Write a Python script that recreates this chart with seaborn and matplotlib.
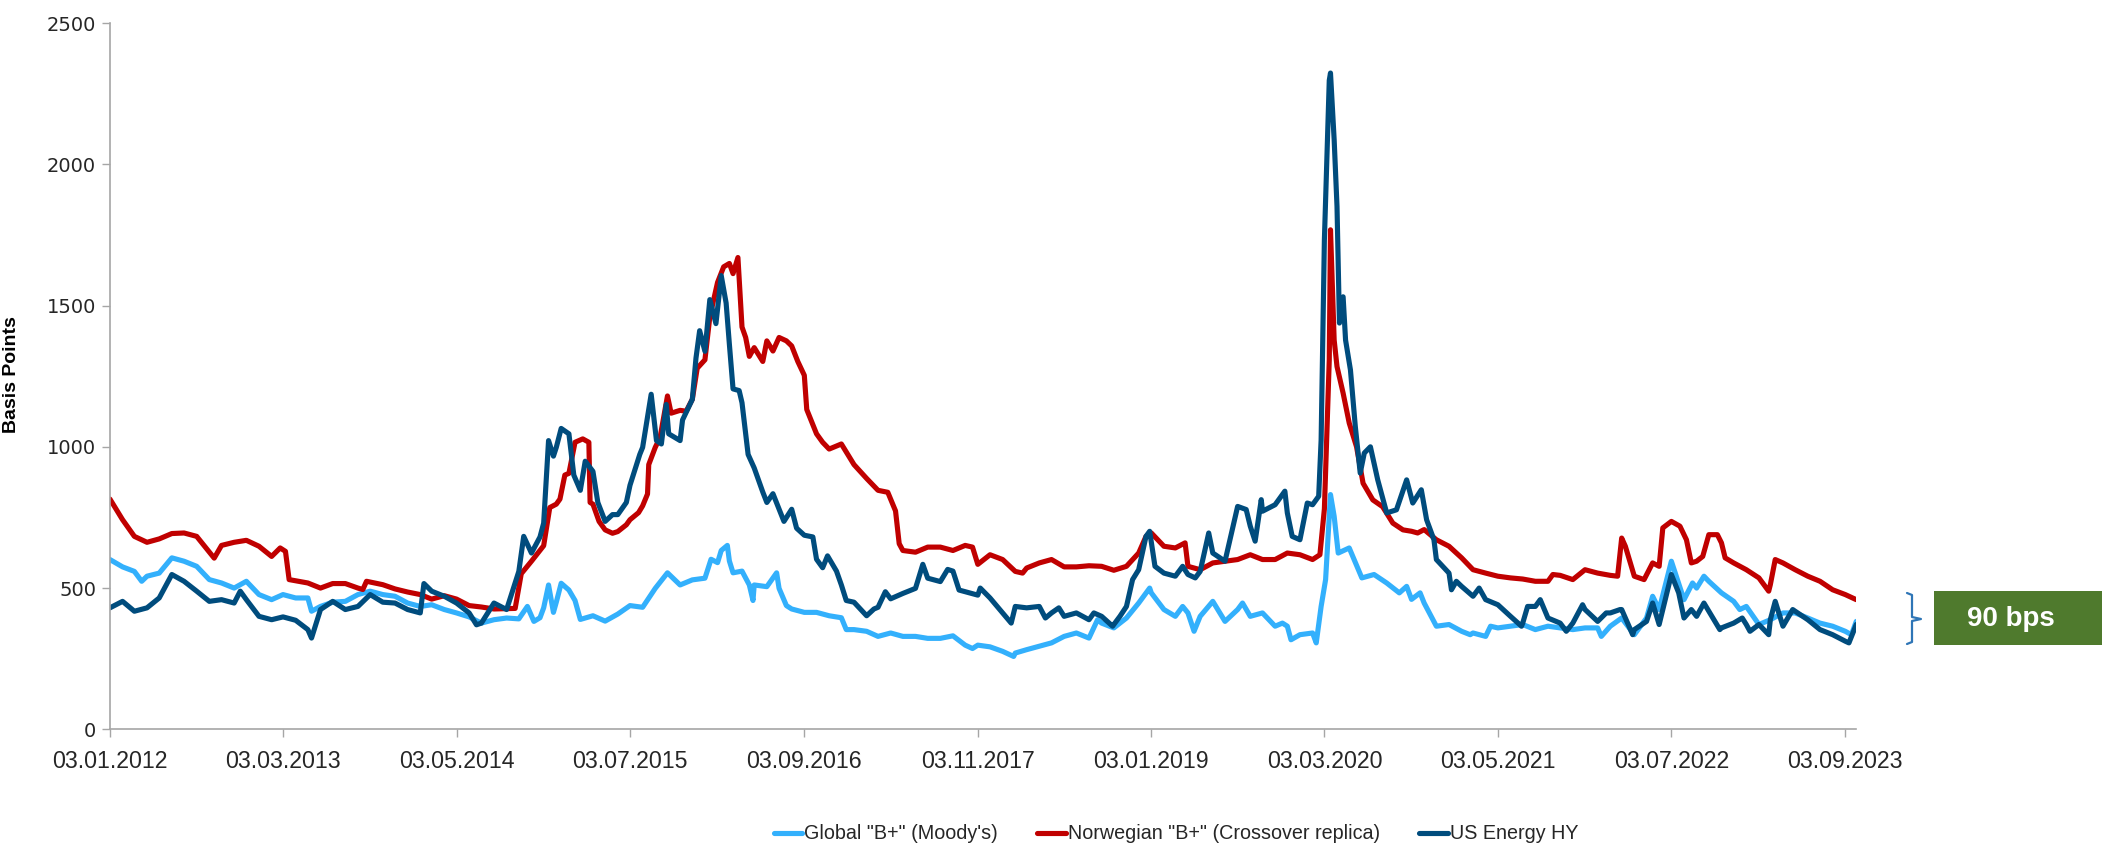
import matplotlib
matplotlib.use("Agg")
import matplotlib.pyplot as plt
from matplotlib import font_manager
from matplotlib.lines import Line2D
from matplotlib.patches import Rectangle
import pandas as pd
import seaborn as sns

# --- data (basis points) ---
global_dates = [
    "2012-01-03", "2012-02-03", "2012-03-03", "2012-03-21", "2012-04-03", "2012-05-03", "2012-06-03",
    "2012-07-03", "2012-08-03", "2012-09-03", "2012-10-03", "2012-11-03", "2012-12-03", "2013-01-03",
    "2013-02-03", "2013-03-03", "2013-04-03", "2013-05-03", "2013-05-12", "2013-06-03", "2013-07-03",
    "2013-08-03", "2013-09-03", "2013-10-03", "2013-11-03", "2013-12-03", "2014-01-03", "2014-02-03",
    "2014-03-03", "2014-04-03", "2014-05-03", "2014-06-03", "2014-07-03", "2014-08-03", "2014-09-03",
    "2014-10-03", "2014-10-24", "2014-11-09", "2014-11-24", "2014-12-03", "2014-12-15", "2014-12-27",
    "2015-01-03", "2015-01-15", "2015-02-03", "2015-02-18", "2015-03-03", "2015-04-03", "2015-05-03",
    "2015-06-03", "2015-07-03", "2015-08-03", "2015-09-03", "2015-10-03", "2015-11-03", "2015-12-03",
    "2016-01-03", "2016-01-18", "2016-02-03", "2016-02-12", "2016-02-27", "2016-03-03", "2016-03-12",
    "2016-04-03", "2016-04-21", "2016-04-30", "2016-05-03", "2016-06-03", "2016-06-27", "2016-07-03",
    "2016-07-21", "2016-08-03", "2016-09-03", "2016-10-03", "2016-11-03", "2016-12-03", "2016-12-15",
    "2017-01-03", "2017-02-03", "2017-03-03", "2017-04-03", "2017-05-03", "2017-06-03", "2017-07-03",
    "2017-08-03", "2017-09-03", "2017-10-03", "2017-10-21", "2017-11-03", "2017-12-03", "2018-01-03",
    "2018-01-30", "2018-02-03", "2018-03-03", "2018-04-03", "2018-05-03", "2018-06-03", "2018-07-03",
    "2018-08-03", "2018-08-24", "2018-09-03", "2018-10-03", "2018-11-03", "2018-12-03", "2018-12-30",
    "2019-01-03", "2019-02-03", "2019-03-03", "2019-03-21", "2019-04-03", "2019-04-18", "2019-05-03",
    "2019-06-03", "2019-07-03", "2019-08-03", "2019-08-15", "2019-09-03", "2019-10-03", "2019-11-03",
    "2019-11-21", "2019-12-03", "2019-12-12", "2020-01-03", "2020-02-03", "2020-02-12", "2020-02-24",
    "2020-03-06", "2020-03-18", "2020-03-27", "2020-04-06", "2020-05-03", "2020-06-03", "2020-07-03",
    "2020-08-03", "2020-09-03", "2020-09-21", "2020-10-03", "2020-10-24", "2020-11-03", "2020-12-03",
    "2021-01-03", "2021-02-03", "2021-02-24", "2021-03-03", "2021-04-03", "2021-04-15", "2021-05-03",
    "2021-06-03", "2021-07-03", "2021-08-03", "2021-09-03", "2021-10-03", "2021-11-03", "2021-12-03",
    "2022-01-03", "2022-01-12", "2022-02-03", "2022-03-03", "2022-04-03", "2022-05-03", "2022-05-18",
    "2022-06-03", "2022-07-03", "2022-08-03", "2022-08-24", "2022-09-03", "2022-09-21", "2022-10-03",
    "2022-11-03", "2022-12-03", "2022-12-18", "2023-01-03", "2023-02-03", "2023-03-03", "2023-04-03",
    "2023-05-03", "2023-06-03", "2023-07-03", "2023-08-03", "2023-09-03", "2023-09-18", "2023-09-30",
]
global_bp = [
    601, 575, 559, 524, 542, 553, 607,
    595, 577, 530, 518, 500, 524, 477,
    459, 477, 465, 465, 418, 435, 450,
    453, 477, 489, 477, 471, 447, 435,
    441, 424, 412, 398, 376, 388, 394,
    391, 435, 382, 395, 430, 511, 414,
    450, 517, 493, 456, 389, 402, 383,
    408, 438, 432, 499, 554, 511, 529,
    535, 602, 590, 633, 651, 596, 554,
    560, 511, 456, 511, 505, 554, 499,
    438, 426, 414, 414, 402, 395, 353,
    353, 347, 329, 341, 329, 329, 322,
    322, 331, 298, 286, 298, 292, 276,
    258, 270, 282, 294, 306, 329, 341,
    323, 388, 376, 359, 394, 447, 500,
    483, 424, 400, 435, 412, 347, 400,
    453, 382, 424, 447, 400, 412, 365,
    376, 365, 317, 335, 341, 306, 435,
    530, 831, 754, 624, 642, 536, 548,
    518, 483, 506, 460, 483, 447, 365,
    371, 347, 335, 341, 329, 365, 359,
    365, 371, 353, 365, 359, 353, 359,
    359, 329, 365, 394, 335, 394, 471,
    424, 595, 459, 518, 500, 542, 524,
    483, 453, 424, 435, 371, 388, 412,
    412, 394, 376, 365, 347, 335, 382,
]

norway_dates = [
    "2012-01-03", "2012-02-03", "2012-03-03", "2012-04-03", "2012-05-03", "2012-06-03", "2012-07-03",
    "2012-08-03", "2012-09-15", "2012-10-03", "2012-11-03", "2012-12-03", "2013-01-03", "2013-02-03",
    "2013-02-24", "2013-03-09", "2013-03-18", "2013-05-03", "2013-06-03", "2013-07-03", "2013-08-03",
    "2013-09-03", "2013-09-15", "2013-09-24", "2013-11-03", "2013-12-03", "2014-01-03", "2014-02-03",
    "2014-03-03", "2014-04-03", "2014-05-03", "2014-06-03", "2014-07-03", "2014-08-03", "2014-09-24",
    "2014-10-09", "2014-11-03", "2014-12-03", "2014-12-18", "2015-01-03", "2015-01-12", "2015-01-24",
    "2015-02-03", "2015-02-18", "2015-03-09", "2015-03-24", "2015-03-27", "2015-04-03", "2015-04-18",
    "2015-05-03", "2015-05-21", "2015-06-03", "2015-06-24", "2015-07-03", "2015-07-24", "2015-08-03",
    "2015-08-15", "2015-08-18", "2015-09-03", "2015-09-15", "2015-10-03", "2015-10-12", "2015-11-03",
    "2015-11-18", "2015-12-03", "2015-12-15", "2016-01-03", "2016-01-15", "2016-02-03", "2016-02-18",
    "2016-03-03", "2016-03-12", "2016-03-24", "2016-04-03", "2016-04-12", "2016-04-21", "2016-05-03",
    "2016-05-24", "2016-06-03", "2016-06-18", "2016-07-03", "2016-07-21", "2016-08-03", "2016-08-18",
    "2016-09-03", "2016-09-09", "2016-10-03", "2016-10-18", "2016-11-03", "2016-12-03", "2016-12-24",
    "2017-01-03", "2017-02-03", "2017-03-03", "2017-03-27", "2017-04-03", "2017-04-15", "2017-04-24",
    "2017-05-03", "2017-06-03", "2017-07-03", "2017-08-03", "2017-09-03", "2017-10-03", "2017-10-21",
    "2017-11-03", "2017-12-03", "2018-01-03", "2018-02-03", "2018-02-21", "2018-03-03", "2018-04-03",
    "2018-05-03", "2018-06-03", "2018-07-03", "2018-08-03", "2018-09-03", "2018-10-03", "2018-11-03",
    "2018-12-03", "2018-12-21", "2019-01-03", "2019-02-03", "2019-03-03", "2019-03-27", "2019-04-03",
    "2019-05-03", "2019-06-03", "2019-07-03", "2019-08-03", "2019-09-03", "2019-10-03", "2019-11-03",
    "2019-12-03", "2020-01-03", "2020-02-03", "2020-02-21", "2020-03-03", "2020-03-15", "2020-03-18",
    "2020-03-27", "2020-04-03", "2020-04-18", "2020-05-03", "2020-05-21", "2020-06-06", "2020-06-30",
    "2020-07-24", "2020-08-18", "2020-09-12", "2020-10-03", "2020-10-18", "2020-11-03", "2020-12-03",
    "2021-01-03", "2021-02-03", "2021-03-03", "2021-04-03", "2021-05-03", "2021-06-03", "2021-07-03",
    "2021-08-03", "2021-09-03", "2021-09-15", "2021-10-03", "2021-11-03", "2021-12-03", "2022-01-03",
    "2022-02-03", "2022-02-21", "2022-03-03", "2022-03-12", "2022-04-03", "2022-04-27", "2022-05-18",
    "2022-06-03", "2022-06-12", "2022-07-03", "2022-07-24", "2022-08-09", "2022-08-21", "2022-09-03",
    "2022-09-18", "2022-10-03", "2022-10-24", "2022-11-03", "2022-11-12", "2022-12-03", "2023-01-03",
    "2023-02-03", "2023-02-27", "2023-03-03", "2023-03-15", "2023-04-03", "2023-05-03", "2023-06-03",
    "2023-07-03", "2023-08-03", "2023-09-03", "2023-09-30",
]
norway_bp = [
    815, 742, 683, 662, 674, 693, 695,
    683, 606, 651, 662, 669, 648, 612,
    642, 630, 530, 518, 500, 516, 516,
    500, 495, 524, 512, 497, 486, 477,
    461, 473, 461, 438, 433, 426, 428,
    551, 595, 650, 785, 797, 815, 900,
    906, 1016, 1028, 1016, 803, 797, 736,
    706, 694, 700, 724, 742, 767, 791,
    833, 937, 998, 1034, 1180, 1119, 1129,
    1126, 1168, 1278, 1308, 1460, 1582, 1637,
    1649, 1613, 1670, 1424, 1387, 1320, 1351,
    1302, 1375, 1339, 1387, 1375, 1357, 1302,
    1253, 1132, 1046, 1016, 992, 1010, 961,
    937, 888, 846, 839, 815, 773, 657,
    633, 627, 645, 645, 633, 651, 645,
    584, 618, 601, 559, 553, 571, 589,
    601, 575, 575, 579, 577, 563, 577,
    624, 683, 695, 648, 642, 660, 577,
    565, 589, 595, 601, 618, 601, 601,
    624, 618, 601, 618, 780, 1308, 1768,
    1378, 1284, 1190, 1084, 1000, 871, 812,
    788, 730, 706, 701, 695, 707, 671,
    648, 607, 565, 553, 542, 536, 532,
    524, 524, 548, 545, 530, 565, 553,
    545, 542, 677, 648, 542, 530, 589,
    577, 713, 736, 719, 671, 589, 595,
    612, 689, 689, 660, 607, 589, 565,
    536, 489, 512, 601, 589, 565, 542,
    524, 494, 477, 459,
]

energy_dates = [
    "2012-01-03", "2012-02-03", "2012-03-03", "2012-04-03", "2012-05-03", "2012-06-03", "2012-07-03",
    "2012-08-03", "2012-09-03", "2012-10-03", "2012-11-03", "2012-11-18", "2012-12-03", "2013-01-03",
    "2013-02-03", "2013-03-03", "2013-04-03", "2013-05-03", "2013-05-12", "2013-06-03", "2013-07-03",
    "2013-08-03", "2013-09-03", "2013-10-03", "2013-11-03", "2013-12-03", "2014-01-03", "2014-02-03",
    "2014-02-12", "2014-03-03", "2014-04-03", "2014-05-03", "2014-06-03", "2014-06-21", "2014-07-03",
    "2014-08-03", "2014-09-03", "2014-10-03", "2014-10-15", "2014-11-03", "2014-11-24", "2014-12-03",
    "2014-12-15", "2014-12-27", "2015-01-03", "2015-01-15", "2015-02-03", "2015-02-15", "2015-03-03",
    "2015-03-15", "2015-04-03", "2015-04-15", "2015-05-03", "2015-05-21", "2015-06-03", "2015-06-24",
    "2015-07-03", "2015-07-27", "2015-08-03", "2015-08-24", "2015-09-06", "2015-09-18", "2015-09-30",
    "2015-10-06", "2015-11-03", "2015-11-09", "2015-12-03", "2015-12-12", "2015-12-21", "2016-01-03",
    "2016-01-15", "2016-01-30", "2016-02-12", "2016-02-24", "2016-03-03", "2016-03-12", "2016-03-27",
    "2016-04-03", "2016-04-18", "2016-05-03", "2016-05-24", "2016-06-03", "2016-06-18", "2016-07-03",
    "2016-07-15", "2016-08-03", "2016-08-15", "2016-09-03", "2016-09-24", "2016-10-03", "2016-10-18",
    "2016-10-30", "2016-11-21", "2016-12-03", "2016-12-15", "2017-01-03", "2017-02-03", "2017-02-21",
    "2017-03-03", "2017-03-21", "2017-04-03", "2017-05-03", "2017-06-03", "2017-06-21", "2017-07-03",
    "2017-08-03", "2017-08-21", "2017-09-03", "2017-09-18", "2017-10-03", "2017-11-03", "2017-11-09",
    "2017-12-03", "2018-01-03", "2018-01-24", "2018-02-03", "2018-03-03", "2018-04-03", "2018-04-18",
    "2018-05-03", "2018-05-21", "2018-06-03", "2018-07-03", "2018-08-03", "2018-08-15", "2018-09-03",
    "2018-09-30", "2018-10-03", "2018-10-18", "2018-11-03", "2018-11-18", "2018-12-03", "2018-12-21",
    "2018-12-30", "2019-01-12", "2019-02-03", "2019-03-03", "2019-03-21", "2019-04-03", "2019-04-21",
    "2019-05-03", "2019-05-24", "2019-06-03", "2019-07-03", "2019-08-03", "2019-08-24", "2019-09-03",
    "2019-09-15", "2019-09-30", "2019-10-03", "2019-11-03", "2019-11-27", "2019-12-03", "2019-12-15",
    "2020-01-03", "2020-01-21", "2020-02-03", "2020-02-18", "2020-02-24", "2020-03-03", "2020-03-15",
    "2020-03-18", "2020-03-27", "2020-04-03", "2020-04-09", "2020-04-18", "2020-04-24", "2020-05-06",
    "2020-05-18", "2020-05-30", "2020-06-09", "2020-06-24", "2020-07-12", "2020-08-03", "2020-08-27",
    "2020-09-21", "2020-10-06", "2020-10-27", "2020-11-09", "2020-11-27", "2020-12-03", "2021-01-03",
    "2021-01-09", "2021-01-21", "2021-02-03", "2021-03-03", "2021-03-18", "2021-04-03", "2021-05-03",
    "2021-06-03", "2021-06-30", "2021-07-03", "2021-07-15", "2021-08-03", "2021-08-15", "2021-09-03",
    "2021-10-03", "2021-10-18", "2021-11-03", "2021-11-27", "2021-12-03", "2022-01-03", "2022-01-24",
    "2022-02-03", "2022-02-27", "2022-03-03", "2022-03-30", "2022-04-03", "2022-05-03", "2022-05-18",
    "2022-06-03", "2022-07-03", "2022-07-21", "2022-08-03", "2022-08-21", "2022-09-03", "2022-09-21",
    "2022-10-03", "2022-10-30", "2022-11-03", "2022-12-03", "2022-12-24", "2023-01-03", "2023-01-12",
    "2023-02-03", "2023-02-27", "2023-03-03", "2023-03-15", "2023-04-03", "2023-04-27", "2023-05-03",
    "2023-06-03", "2023-07-03", "2023-08-03", "2023-09-03", "2023-09-12", "2023-09-30",
]
energy_bp = [
    430, 453, 418, 430, 465, 548, 524,
    489, 453, 459, 447, 489, 459, 400,
    388, 398, 386, 353, 323, 424, 453,
    424, 435, 477, 450, 447, 424, 412,
    516, 489, 471, 447, 412, 370, 376,
    447, 424, 559, 683, 624, 681, 730,
    1022, 967, 998, 1065, 1046, 900, 846,
    949, 913, 803, 736, 760, 760, 803,
    864, 973, 998, 1186, 1022, 1010, 1150,
    1046, 1022, 1095, 1168, 1314, 1411, 1338,
    1521, 1436, 1606, 1509, 1363, 1205, 1199,
    1156, 973, 925, 840, 803, 834, 779,
    736, 779, 712, 687, 681, 602, 572,
    614, 560, 511, 456, 450, 402, 426,
    432, 487, 462, 481, 499, 584, 535,
    523, 566, 560, 493, 487, 475, 500,
    465, 412, 376, 435, 430, 435, 394,
    412, 430, 400, 412, 388, 412, 400,
    365, 371, 400, 435, 530, 565, 683,
    701, 577, 553, 542, 577, 548, 536,
    559, 695, 624, 595, 789, 778, 719,
    666, 813, 772, 795, 843, 766, 683,
    671, 801, 795, 825, 1024, 1732, 2297,
    2323, 2087, 1851, 1438, 1531, 1378, 1272,
    1071, 907, 978, 1000, 883, 766, 777,
    883, 801, 848, 742, 671, 601, 553,
    494, 524, 506, 471, 500, 459, 441,
    400, 365, 376, 435, 435, 459, 394,
    376, 347, 376, 441, 424, 382, 412,
    412, 424, 424, 335, 353, 382, 447,
    371, 548, 483, 394, 424, 400, 447,
    418, 353, 359, 376, 394, 371, 347,
    371, 335, 388, 453, 365, 424, 418,
    388, 353, 335, 312, 306, 371,
]

series_names = ['Global "B+" (Moody\'s)', 'Norwegian "B+" (Crossover replica)', 'US Energy HY']
series_colors = ['#33B0FC', '#C00000', '#004C7D']
xtick_labels = ['03.01.2012', '03.03.2013', '03.05.2014', '03.07.2015', '03.09.2016', '03.11.2017',
                '03.01.2019', '03.03.2020', '03.05.2021', '03.07.2022', '03.09.2023']
ytick_values = [0, 500, 1000, 1500, 2000, 2500]
gap_label = '90 bps'

sns.set_style('white')
installed = {f.name for f in font_manager.fontManager.ttflist}
narrow = 'Liberation Sans Narrow' if 'Liberation Sans Narrow' in installed else 'Liberation Sans'

fig = plt.figure(figsize=(21.02, 8.46), dpi=100)
ax = fig.add_axes([0.0523, 0.1379, 0.8306, 0.8349])

all_dates = [global_dates, norway_dates, energy_dates]
all_values = [global_bp, norway_bp, energy_bp]
for dates, vals, name, col in zip(all_dates, all_values, series_names, series_colors):
    sns.lineplot(x=pd.to_datetime(dates), y=vals, ax=ax, color=col, lw=3.7, label=name)

ax.set_xlim(pd.Timestamp('2012-01-03'), pd.Timestamp('2023-09-29'))
ax.set_ylim(0, 2500)
ax.set_xticks(pd.to_datetime(xtick_labels, format='%d.%m.%Y'))
ax.set_xticklabels(xtick_labels)
ax.set_yticks(ytick_values)
ax.set_yticklabels([str(v) for v in ytick_values])

for side in ['top', 'right']:
    ax.spines[side].set_visible(False)
for side in ['left', 'bottom']:
    ax.spines[side].set_color('#A6A6A6')
    ax.spines[side].set_linewidth(1.2)

ax.tick_params(axis='x', direction='out', length=6, width=1, color='#A6A6A6',
               pad=9, labelsize=16.7, labelcolor='#262626', bottom=True)
ax.tick_params(axis='y', direction='out', length=6, width=1, color='#A6A6A6',
               pad=4, labelsize=14, labelcolor='#262626', left=True)
for lab in ax.get_xticklabels():
    lab.set_fontfamily(narrow)
for lab in ax.get_yticklabels():
    lab.set_fontfamily('DejaVu Sans')

ax.set_xlabel('')
ax.set_ylabel('Basis Points', fontfamily=narrow, fontweight='bold', fontsize=14, color='black')
ax.yaxis.set_label_coords(-0.0515, 0.502)

ax.legend(loc='lower center', bbox_to_anchor=(0.5595, -0.018), bbox_transform=fig.transFigure,
          ncol=3, frameon=False, prop={'family': narrow, 'size': 14.2},
          handlelength=1.45, handletextpad=0.1, columnspacing=2.0)

# annotation on the right: bracket and green box
W, H = 2102, 846
bx = [1907, 1912, 1912, 1921, 1912, 1912, 1907]
by = [593, 595, 617, 619, 621, 642, 644]
fig.add_artist(Line2D([v / W for v in bx], [1 - v / H for v in by],
                      transform=fig.transFigure, color='#2E75B6', lw=1.6))
fig.add_artist(Rectangle((1934 / W, 1 - 645 / H), (W - 1934) / W, 54 / H,
                         transform=fig.transFigure, facecolor='#4F7A2D', edgecolor='none'))
fig.text(2011 / W, 1 - 619 / H, gap_label, ha='center', va='center', color='white',
         fontweight='bold', fontsize=20, family='Liberation Sans')

fig.savefig('out.png', dpi=100)
